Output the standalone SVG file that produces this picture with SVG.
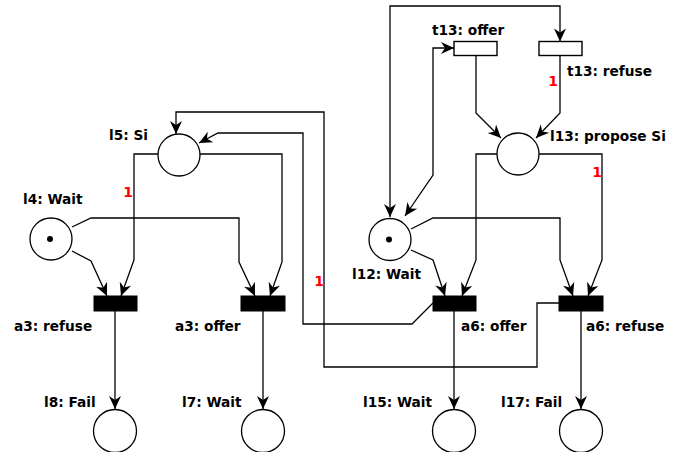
<svg xmlns="http://www.w3.org/2000/svg" width="685" height="452" viewBox="0 0 685 452">
<style>
.pl{fill:#fff;stroke:#000;stroke-width:1.3}
.tk{fill:#000}
.tr{fill:#000;stroke:#000;stroke-width:1}
.tw{fill:#fff;stroke:#000;stroke-width:1.4}
.lb{font-family:"DejaVu Sans","Liberation Sans",sans-serif;font-weight:bold;font-size:13.7px;fill:#000}
.w{font-family:"DejaVu Sans","Liberation Sans",sans-serif;font-weight:bold;font-size:14px;fill:#f00;text-anchor:middle}
.c{fill:none;stroke:#000;stroke-width:1.3;marker-end:url(#arr)}
.c2{fill:none;stroke:#000;stroke-width:1.3;marker-end:url(#arr);marker-start:url(#arr)}
</style>
<defs>
<marker id="arr" viewBox="-14 -7 14 14" refX="0" refY="0" markerWidth="14" markerHeight="14" markerUnits="userSpaceOnUse" orient="auto-start-reverse">
<path d="M0,0 L-13,-6 L-9,0 L-13,6 Z" fill="#000"/>
</marker>
</defs>
<rect width="685" height="452" fill="#fff"/>
<g id="connectors">
<path class="c" d="M72,251 L91,261 L107,296"/>
<path class="c" d="M158,154 L134,154 L134,260 L121,296"/>
<path class="c" d="M72,227 L91,218 L239,218 L239,262 L255,296"/>
<path class="c" d="M200,154 L282,154 L282,262 L270,296"/>
<path class="c" d="M115,311 L115,409"/>
<path class="c" d="M263,311 L263,409"/>
<path class="c" d="M433,303 L412,324 L303,324 L303,133 L218,133 L199,143"/>
<path class="c" d="M559,303 L537,303 L537,367 L324,367 L324,112 L176,112 L176,134"/>
<path class="c" d="M411,250 L433,260 L445,296"/>
<path class="c" d="M497,154 L476,154 L476,260 L462,296"/>
<path class="c" d="M411,229 L433,218 L560,218 L560,260 L573,296"/>
<path class="c" d="M539,154 L602,154 L602,260 L588,296"/>
<path class="c" d="M454,311 L454,409"/>
<path class="c" d="M581,311 L581,409"/>
<path class="c" d="M476,56 L476,113 L501,138"/>
<path class="c" d="M560,56 L560,113 L536,138"/>
<path class="c2" d="M390,217 L390,6 L560,6 L560,41.5"/>
<path class="c2" d="M405,216 L433,175 L433,48 L454,48"/>
<text class="w" x="128" y="197">1</text>
<text class="w" x="319" y="286">1</text>
<text class="w" x="553" y="86">1</text>
<text class="w" x="597" y="177">1</text>
</g>
<g id="l5"><circle class="pl" cx="179" cy="155" r="21"/><text class="lb" x="109" y="140">l5: Si</text></g>
<g id="l4"><circle class="pl" cx="51" cy="239" r="21"/><circle class="tk" cx="50" cy="239" r="3"/><text class="lb" x="23" y="204">l4: Wait</text></g>
<g id="l12"><circle class="pl" cx="390" cy="239.5" r="21"/><circle class="tk" cx="389" cy="239.5" r="3"/><text class="lb" x="352" y="279">l12: Wait</text></g>
<g id="l13"><circle class="pl" cx="518" cy="154" r="21"/><text class="lb" x="550" y="141">l13: propose Si</text></g>
<g id="l8"><circle class="pl" cx="115" cy="431" r="21.5"/><text class="lb" x="44" y="407">l8: Fail</text></g>
<g id="l7"><circle class="pl" cx="263" cy="431" r="21.5"/><text class="lb" x="182" y="407">l7: Wait</text></g>
<g id="l15"><circle class="pl" cx="454" cy="431" r="21.5"/><text class="lb" x="363" y="407">l15: Wait</text></g>
<g id="l17"><circle class="pl" cx="581" cy="431" r="21.5"/><text class="lb" x="501" y="407">l17: Fail</text></g>
<g id="a3_refuse"><rect class="tr" x="94" y="296" width="43" height="15"/><text class="lb" x="14" y="331">a3: refuse</text></g>
<g id="a3_offer"><rect class="tr" x="241" y="296" width="44" height="15"/><text class="lb" x="175" y="331">a3: offer</text></g>
<g id="a6_offer"><rect class="tr" x="433" y="296" width="43" height="15"/><text class="lb" x="461" y="331">a6: offer</text></g>
<g id="a6_refuse"><rect class="tr" x="559" y="296" width="44" height="15"/><text class="lb" x="586" y="331">a6: refuse</text></g>
<g id="t13_offer"><rect class="tw" x="454" y="41.5" width="43" height="14"/><text class="lb" x="432" y="35">t13: offer</text></g>
<g id="t13_refuse"><rect class="tw" x="539" y="41.5" width="43" height="14"/><text class="lb" x="567" y="76">t13: refuse</text></g>
</svg>
